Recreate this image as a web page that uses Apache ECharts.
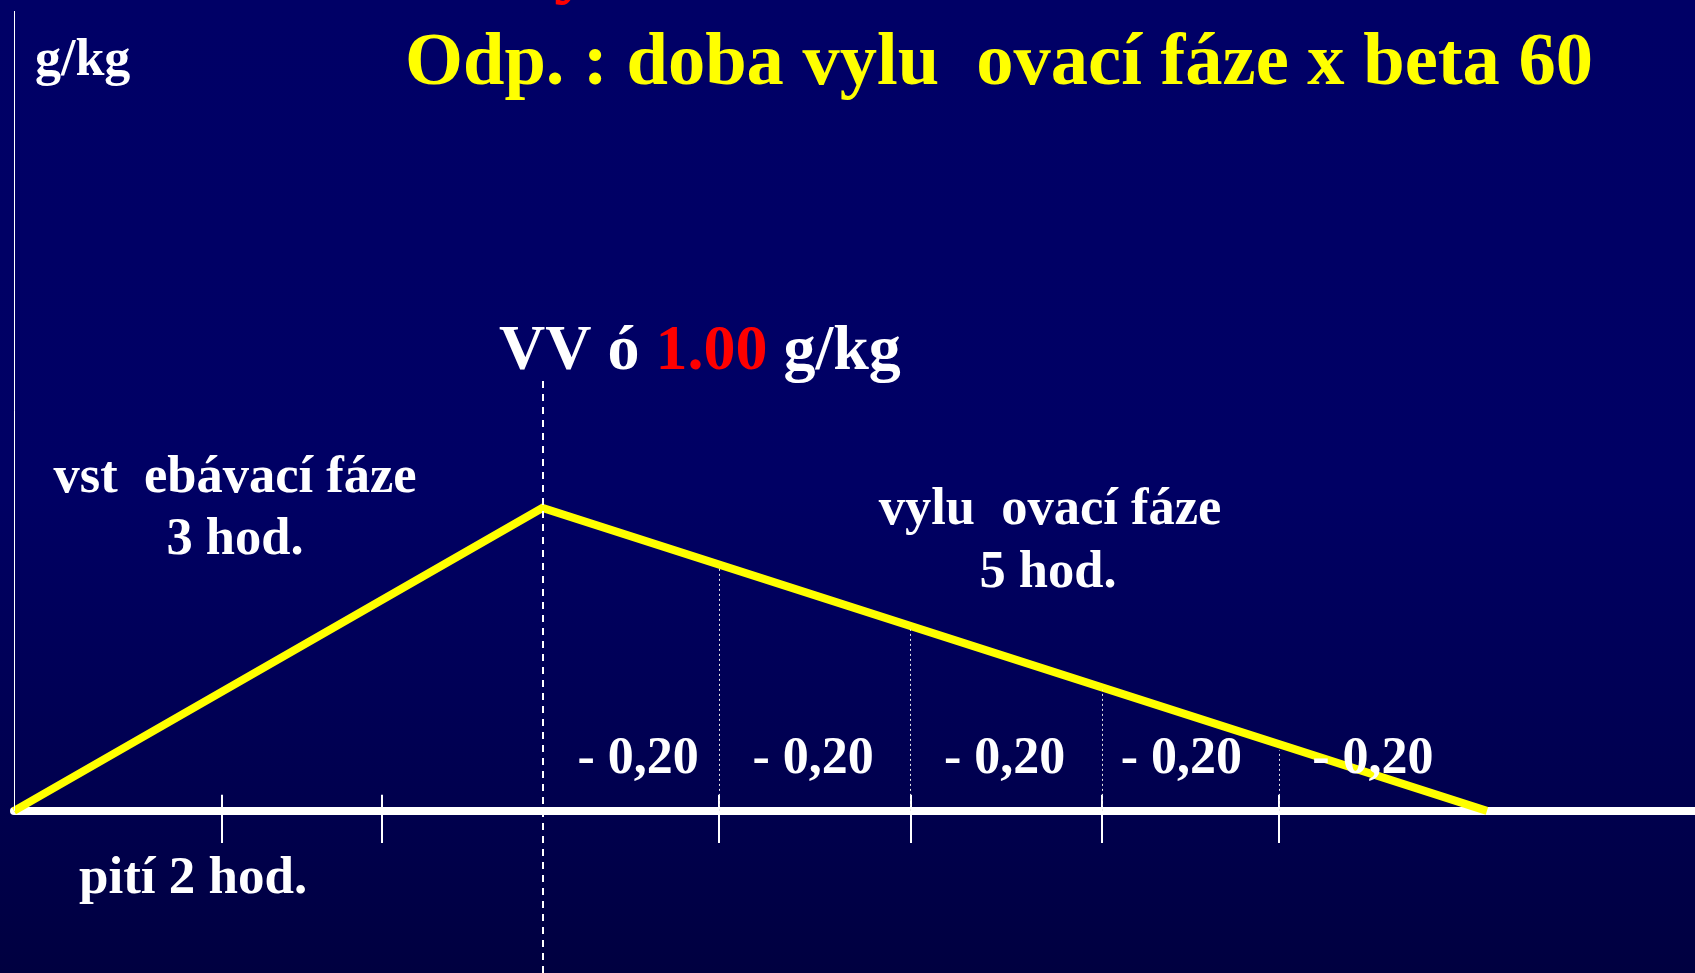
<!DOCTYPE html>
<html>
<head>
<meta charset="utf-8">
<script src="https://cdn.jsdelivr.net/npm/echarts@6/dist/echarts.min.js"></script>
<style>
html,body{margin:0;padding:0;width:1695px;height:973px;overflow:hidden;}
#c{width:1695px;height:973px;background:linear-gradient(to bottom,#000066 0%,#000064 50%,#00004c 85%,#000040 100%);}
</style>
</head>
<body>
<div id="c"></div>
<script>
// ---- data ----
const curveHours = [0, 2.87, 8.0];          // start of drinking, peak, fully eliminated
const curveLevels = [0, 1.00, 0];           // g/kg
const peakHour = 2.87;
const hourTicks = [1.13, 2.0, 2.87, 3.83, 4.87, 5.91, 6.87];
const eliminationHours = [3.83, 4.87, 5.91, 6.87];
const eliminationLevels = [0.80, 0.60, 0.40, 0.20];
const decrementHours = [3.39, 4.34, 5.38, 6.34, 7.38];
const decrementLabels = ['- 0,20', '- 0,20', '- 0,20', '- 0,20', '- 0,20'];

const SERIF = '"Liberation Serif", "Times New Roman", serif';
const f = (px) => 'bold ' + px + 'px ' + SERIF;

const chart = echarts.init(document.getElementById('c'), null, {renderer: 'canvas'});

const X_MAX = 9.13, Y_MIN = -0.535, Y_MAX = 2.64;

function vline(x, y1, y2, style) { return [{coord: [x, y1], lineStyle: style}, {coord: [x, y2]}]; }

const solidAxis = {color: '#ffffff', width: 1, type: 'solid', opacity: 1};
const tickStyle = {color: '#ffffff', width: 2, type: 'solid', opacity: 1};
const dotStyle = {color: '#e8e8e8', width: 1, type: [2, 3], opacity: 1};
const dashStyle = {color: '#ffffff', width: 2, type: [7, 6], opacity: 1};

function txt(x, y, text, size, fill, align) {
  return {type: 'text', x: x, y: y, z: 10, style: {text: text, font: f(size), fill: fill, align: align, textAlign: align, verticalAlign: 'middle', textVerticalAlign: 'middle'}};
}

const option = {
  backgroundColor: 'transparent',
  animation: false,
  grid: {left: 14, right: 0, top: 11, bottom: 0, containLabel: false},
  xAxis: {
    type: 'value', min: 0, max: X_MAX,
    axisLine: {show: true, onZero: true, lineStyle: {color: '#ffffff', width: 8}},
    axisTick: {show: false}, axisLabel: {show: false}, splitLine: {show: false}
  },
  yAxis: {
    type: 'value', min: Y_MIN, max: Y_MAX,
    axisLine: {show: false}, axisTick: {show: false}, axisLabel: {show: false}, splitLine: {show: false}
  },
  series: [
    {
      // y-axis line, hour ticks and dotted elimination guides
      type: 'line', data: [], z: 1, silent: true,
      markLine: {
        silent: true, symbol: ['none', 'none'], label: {show: false}, animation: false,
        lineStyle: {type: 'solid', opacity: 1},
        data: [
          vline(0, 0, Y_MAX, solidAxis),
          ...hourTicks.filter(t => t !== peakHour).map(t => vline(t, -0.106, 0.053, tickStyle)),
          ...eliminationHours.map((t, i) => vline(t, 0, eliminationLevels[i], dotStyle))
        ]
      }
    },
    {
      type: 'line', z: 3,
      data: curveHours.map((h, i) => [h, curveLevels[i]]),
      symbol: 'none',
      lineStyle: {color: '#ffff00', width: 8, cap: 'butt', join: 'miter'}
    },
    {
      // dashed peak line
      type: 'line', data: [], z: 4, silent: true,
      markLine: {
        silent: true, symbol: ['none', 'none'], label: {show: false}, animation: false,
        lineStyle: {opacity: 1},
        data: [vline(peakHour, Y_MIN, 1.43, dashStyle)]
      }
    },
    {
      type: 'scatter', z: 5, symbolSize: 0, silent: true,
      itemStyle: {opacity: 1},
      data: decrementHours.map((h, i) => ({value: [h, 0], label: {formatter: decrementLabels[i]}})),
      label: {show: true, position: 'inside', offset: [0, -51], color: '#ffffff', opacity: 1, fontFamily: SERIF, fontWeight: 'bold', fontSize: 52}
    }
  ],
  graphic: [
    {type: 'text', x: 554, y: -31, z: 10, style: {text: 'y', font: f(76), fill: '#ff0000', align: 'left', textAlign: 'left', verticalAlign: 'middle', textVerticalAlign: 'middle'}},
    txt(35, 62, 'g/kg', 52, '#ffffff', 'left'),
    txt(405, 65, 'Odp. : doba vylu  ovací fáze x beta 60', 74.5, '#ffff00', 'left'),
    {type: 'text', x: 499, y: 352, z: 10, style: {
      text: '{w|VV ó }{r|1.00}{w| g/kg}', font: f(64), fill: '#ffffff', align: 'left', textAlign: 'left', verticalAlign: 'middle', textVerticalAlign: 'middle',
      rich: {w: {font: f(64), fill: '#ffffff'}, r: {font: f(64), fill: '#ff0000'}}
    }},
    txt(235, 478, 'vst  ebávací fáze', 52.5, '#ffffff', 'center'),
    txt(235, 540, '3 hod.', 52.5, '#ffffff', 'center'),
    txt(1050, 510, 'vylu  ovací fáze', 52.5, '#ffffff', 'center'),
    txt(1048, 573, '5 hod.', 52.5, '#ffffff', 'center'),
    txt(79, 879, 'pití 2 hod.', 53, '#ffffff', 'left')
  ]
};
chart.setOption(option);
</script>
</body>
</html>
